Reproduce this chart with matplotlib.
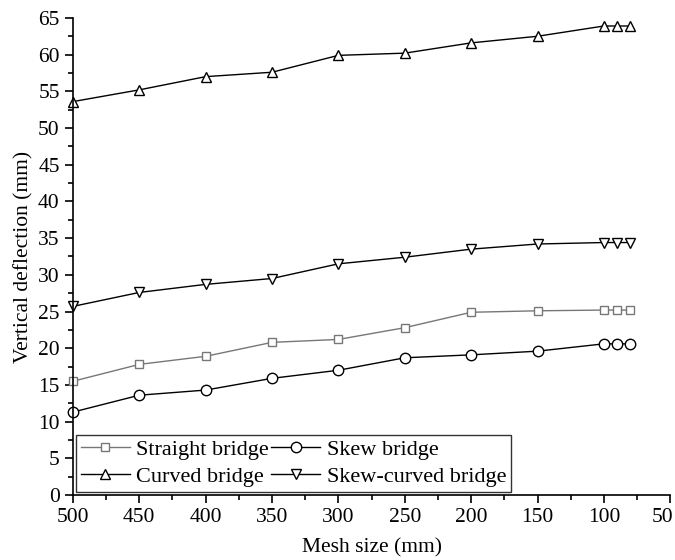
import matplotlib
matplotlib.use('Agg')
import matplotlib.pyplot as plt
import matplotlib.transforms as mtransforms
from matplotlib.ticker import MultipleLocator

plt.rcParams['font.family'] = ['Liberation Serif', 'DejaVu Serif']

# Data
mesh_size = [500, 450, 400, 350, 300, 250, 200, 150, 100, 90, 80]
straight = [15.5, 17.8, 18.9, 20.8, 21.2, 22.8, 24.9, 25.1, 25.2, 25.2, 25.2]
skew = [11.3, 13.6, 14.3, 15.9, 17.0, 18.7, 19.1, 19.6, 20.6, 20.6, 20.6]
curved = [53.6, 55.2, 57.0, 57.6, 59.9, 60.2, 61.6, 62.5, 63.9, 63.9, 63.9]
skew_curved = [25.7, 27.6, 28.7, 29.5, 31.5, 32.4, 33.5, 34.2, 34.4, 34.4, 34.4]
x_ticks = [500, 450, 400, 350, 300, 250, 200, 150, 100, 50]

fig = plt.figure(figsize=(6.75, 5.6), dpi=100)
ax = fig.add_axes([0.108, 0.116, 0.885, 0.852])

mk = dict(markerfacecolor='white', markersize=7.5, linewidth=1)
h1, = ax.plot(mesh_size, straight, marker='s', color='#777777', label='Straight bridge',
              markersize=6, markerfacecolor='white', linewidth=1, clip_on=False)
h2, = ax.plot(mesh_size, skew, marker='o', color='black', label='Skew bridge',
              clip_on=False, **mk)
h3, = ax.plot(mesh_size, curved, marker='^', color='black', label='Curved bridge',
              clip_on=False, **mk)
h4, = ax.plot(mesh_size, skew_curved, marker='v', color='black', label='Skew-curved bridge',
              clip_on=False, **mk)

ax.set_xlim(500, 50)
ax.set_ylim(0, 65)
ax.set_xticks(x_ticks, [str(t) for t in x_ticks])
ax.xaxis.set_minor_locator(MultipleLocator(25))
ax.yaxis.set_major_locator(MultipleLocator(5))
ax.yaxis.set_minor_locator(MultipleLocator(2.5))

for s in ['top', 'right']:
    ax.spines[s].set_visible(False)
for s in ['left', 'bottom']:
    ax.spines[s].set_linewidth(1.2)

ax.tick_params(which='major', direction='out', length=6, width=1.2, labelsize=15.5)
ax.tick_params(which='minor', direction='out', length=3.5, width=1.2)

ax.set_xlabel('Mesh size (mm)', fontsize=15.5, labelpad=8)
ax.set_ylabel('Vertical deflection (mm)', fontsize=15.5, labelpad=3)

# keep the last x tick label inside the canvas
for lab in ax.get_xticklabels():
    if lab.get_text() == '50':
        lab.set_transform(lab.get_transform() +
                          mtransforms.ScaledTranslation(-8 / 100, 0, fig.dpi_scale_trans))

leg = ax.legend([h1, h3, h2, h4],
                ['Straight bridge', 'Curved bridge', 'Skew bridge', 'Skew-curved bridge'],
                loc='lower left', ncol=2, fontsize=16, frameon=True, fancybox=False,
                edgecolor='black', handlelength=2.2, handletextpad=0.3,
                columnspacing=0.1, labelspacing=0.3, borderpad=0.2,
                borderaxespad=0.15)
leg.get_frame().set_linewidth(1.0)

plt.savefig('out.png', dpi=100)
plt.close()
